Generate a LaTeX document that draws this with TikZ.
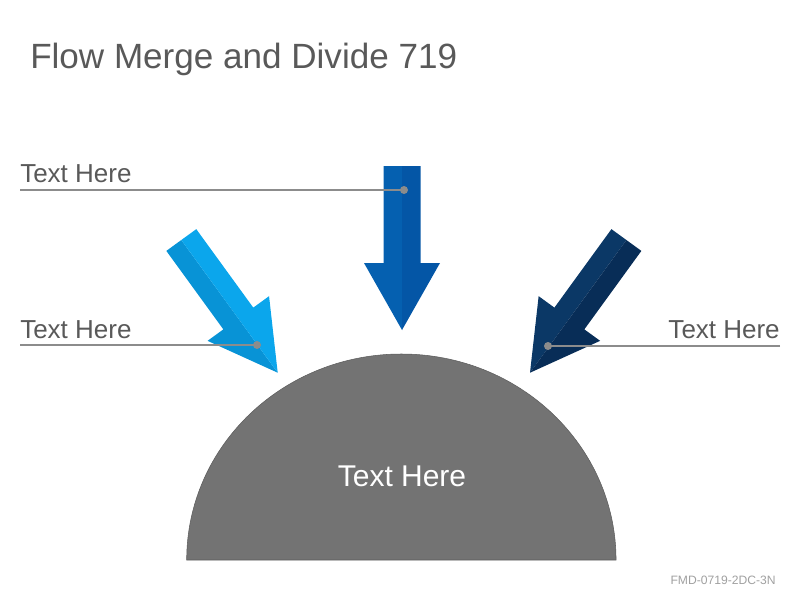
\documentclass[tikz,border=0pt]{standalone}
\usepackage{fontspec}
\setmainfont{Liberation Sans}
\usetikzlibrary{positioning}

\definecolor{titlegray}{HTML}{595959}
\definecolor{leadgray}{HTML}{8C8C8C}
\definecolor{footgray}{HTML}{A0A0A0}
\definecolor{domegray}{HTML}{737373}
\definecolor{cyanA}{HTML}{0893D6}
\definecolor{cyanB}{HTML}{0BA6EC}
\definecolor{blueA}{HTML}{0560B0}
\definecolor{blueB}{HTML}{0456A6}
\definecolor{navyA}{HTML}{0B3866}
\definecolor{navyB}{HTML}{082D57}

% two-tone block arrow: tip position, direction, colour of each half
\newcommand{\flowarrow}[4]{%
  \begin{scope}[shift={#1}, rotate=#2]
    \fill[#3] (0,0) -- (-67,38) -- (-67,18.5) -- (-164,18.5) -- (-164,0) -- cycle;
    \fill[#4] (0,0) -- (-67,-38) -- (-67,-18.5) -- (-164,-18.5) -- (-164,0) -- cycle;
  \end{scope}}

\tikzset{
  label text/.style={inner sep=0pt, text=titlegray, font=\fontsize{19.5}{23}\selectfont},
  leader/.style={draw=leadgray, line width=2.2pt},
  dot/.style={circle, fill=leadgray, inner sep=0pt, minimum size=6pt},
}

\begin{document}
\begin{tikzpicture}[x=0.75pt, y=-0.75pt]
  \useasboundingbox (0,0) rectangle (800,600);

  \node[inner sep=0pt, anchor=base west, text=titlegray, font=\fontsize{26.3}{31}\selectfont]
    (title) at (30,68) {Flow Merge and Divide 719};

  % dome
  \fill[domegray, draw=domegray!80!black, line width=0.4pt]
    (186.7,560) arc[start angle=180, end angle=0, x radius=161pt, y radius=154.5pt] -- cycle;
  \node[inner sep=0pt, anchor=base, text=white, font=\fontsize{22.5}{27}\selectfont]
    (centre) at (402,486) {Text Here};

  % arrows
  \flowarrow{(277.7,372.7)}{-54}{cyanA}{cyanB}
  \flowarrow{(402,330)}{-90}{blueA}{blueB}
  \flowarrow{(530,372.7)}{-126}{navyA}{navyB}

  % labels and leaders
  \node[label text, anchor=base west] (lab1) at (20,182) {Text Here};
  \node[label text, anchor=base west] (lab2) at (20,338) {Text Here};
  \node[label text, anchor=base east] (lab3) at (780,338) {Text Here};

  \coordinate (l1) at (20,190);
  \coordinate (l2) at (20,345);
  \coordinate (l3) at (780,346);
  \node[dot] (d1) at (404,190) {};
  \node[dot] (d2) at (257,345) {};
  \node[dot] (d3) at (548,346) {};
  \draw[leader] (l1) -- (d1.center);
  \draw[leader] (l2) -- (d2.center);
  \draw[leader] (l3) -- (d3.center);

  \node[inner sep=0pt, anchor=base east, text=footgray, font=\fontsize{9.1}{11}\selectfont]
    (code) at (776,584) {FMD-0719-2DC-3N};
\end{tikzpicture}
\end{document}
